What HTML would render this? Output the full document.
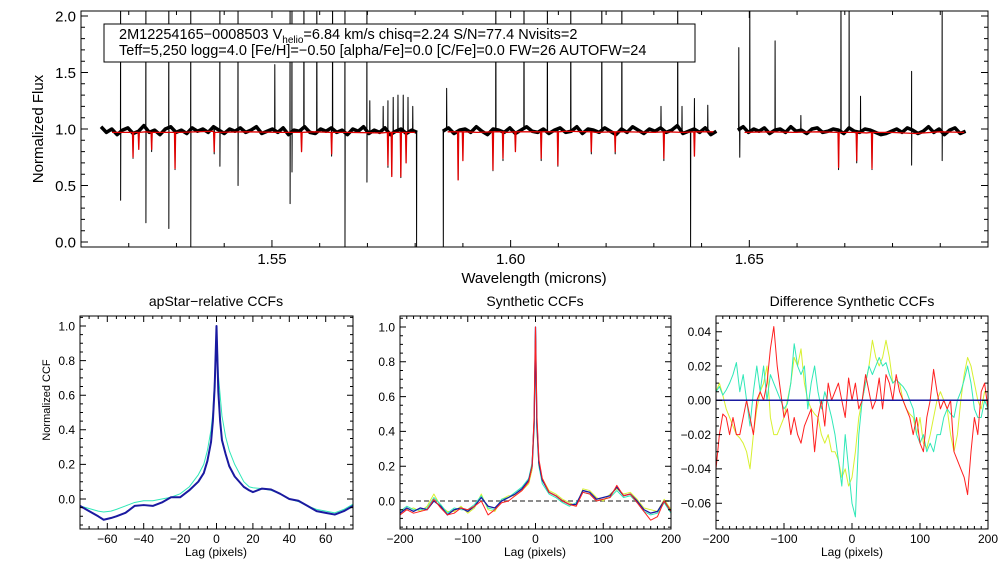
<!DOCTYPE html>
<html><head><meta charset="utf-8"><style>
body{margin:0;background:#fff}
svg{display:block;font-family:"Liberation Sans",sans-serif}
</style></head><body>
<svg id="fig" width="1008" height="576" viewBox="0 0 1008 576" xmlns="http://www.w3.org/2000/svg">
<defs>
<clipPath id="c0"><rect x="81" y="11" width="907" height="236"/></clipPath>
<clipPath id="c1"><rect x="80" y="316" width="273" height="213"/></clipPath>
<clipPath id="c2"><rect x="400" y="316" width="271" height="213"/></clipPath>
<clipPath id="c3"><rect x="716" y="316" width="272" height="213"/></clipPath>
</defs>
<g id="g0"></g>
<g id="g1"></g>
<g id="g2"></g>
<g id="g3"></g>
<g>
<rect x="104" y="24" width="591" height="38" fill="#fff" stroke="#000" stroke-width="1"/>
<text x="119" y="39" font-size="14.5">2M12254165−0008503  V<tspan font-size="10" dy="4">helio</tspan><tspan dy="-4">=6.84 km/s  chisq=2.24  S/N=77.4  Nvisits=2</tspan></text>
<text x="119" y="55" font-size="14.5">Teff=5,250 logg=4.0 [Fe/H]=−0.50 [alpha/Fe]=0.0 [C/Fe]=0.0 FW=26 AUTOFW=24</text>
</g>
</svg>
<script>
// ---------- spectrum data ----------
const chipStart=[1.5142,1.5858,1.6476];
const chipEnd=[1.5804,1.6431,1.6953];
const contChip1=[1.02,0.97,1.00,0.95,0.99,1.01,0.96,0.98,1.03,0.97,0.99,0.95,1.00,1.02,0.97,0.99,0.96,1.01,0.98,1.00,0.97,1.02,0.99,0.96,1.00,0.98,1.01,0.97,0.99,1.02,0.96,0.98,1.00,0.97,1.01,0.95,0.99,0.98,1.02,0.97,0.96,1.00,0.98,1.01,0.97,0.99,0.95,1.00,0.98,1.02,0.96,0.99,0.97,1.01,0.95,0.98,1.00,0.96,0.99,0.97];
const contChip2=[0.98,1.01,0.96,0.99,1.00,0.97,1.02,0.98,0.95,1.00,0.99,0.97,1.01,0.96,0.99,1.02,0.98,0.97,1.00,0.96,0.99,1.01,0.97,0.98,1.02,0.96,1.00,0.99,0.97,1.01,0.98,0.95,1.00,0.97,1.02,0.99,0.96,1.00,0.98,1.01,0.97,0.99,1.03,0.96,0.98,1.00,0.97,1.01,0.95,0.98];
const contChip3=[0.99,1.02,0.97,1.00,0.98,1.01,0.96,0.99,1.00,0.97,1.02,0.98,0.99,0.96,1.00,1.01,0.97,0.98,1.00,0.99,0.96,1.01,0.98,0.97,1.00,0.99,0.97,0.95,0.96,0.98,1.00,0.97,1.01,0.99,0.96,0.98,1.02,0.97,1.00,0.95,0.99,1.01,0.96,0.98];
const spikeWave=[1.5183,1.5236,1.5284,1.5330,1.5391,1.5429,1.5506,1.5538,1.5542,1.5567,1.5594,1.5627,1.5653,1.5699,1.5705,1.5733,1.5743,1.5754,1.5764,1.5775,1.5785,1.5795,1.5866,1.5969,1.6028,1.6077,1.6126,1.6191,1.6233,1.6315,1.6350,1.6359,1.6385,1.6413,1.6478,1.6501,1.6554,1.6608,1.6692,1.6709,1.6733,1.6840,1.6904];
const spikeTop=[2.3,2.3,2.3,2.3,2.3,2.3,1.57,2.3,2.3,2.3,2.3,2.3,2.3,2.3,1.25,1.2,1.25,1.28,1.3,1.3,1.28,1.2,1.36,2.3,2.3,2.3,2.3,2.3,2.3,1.2,2.3,1.2,1.27,1.21,1.72,2.3,1.78,1.12,2.3,2.3,1.29,1.51,2.3];
const dipWave=[1.5183,1.5209,1.5236,1.5248,1.5284,1.5297,1.5330,1.5379,1.5391,1.5429,1.5538,1.5542,1.5562,1.5625,1.5653,1.5699,1.5743,1.5751,1.5770,1.5803,1.5859,1.5890,1.5963,1.5984,1.6064,1.6099,1.6169,1.6219,1.6321,1.6377,1.6480,1.6687,1.6725,1.6757,1.6840,1.6904];
const dipBottom=[0.37,0.74,0.17,0.8,0.12,0.64,-0.05,0.78,0.67,0.5,0.34,0.62,0.8,0.76,-0.05,0.53,0.66,0.6,0.57,-0.05,-0.05,0.55,0.63,0.72,0.72,0.67,0.78,0.78,0.72,-0.05,0.75,0.64,0.7,0.64,0.68,0.72];
const redStart=[1.5165,1.5868,1.6490];
const redEnd=[1.5800,1.6425,1.6950];
const redContChip1=[0.97,0.975,0.97,0.98,0.975,0.97,0.975,0.97,0.965,0.97];
const redContChip2=[0.975,0.97,0.97,0.975,0.98,0.97,0.975,0.97,0.97,0.975];
const redContChip3=[0.97,0.975,0.97,0.975,0.97,0.965,0.97,0.96,0.975,0.97];
const redDipWave=[1.5209,1.5221,1.5248,1.5297,1.5379,1.5562,1.5625,1.5743,1.5751,1.5770,1.5781,1.5890,1.5900,1.5963,1.5984,1.6010,1.6064,1.6099,1.6169,1.6219,1.6321,1.6385,1.6687,1.6725,1.6757];
const redDipBottom=[0.75,0.82,0.82,0.65,0.8,0.8,0.78,0.68,0.58,0.58,0.7,0.55,0.72,0.64,0.74,0.8,0.74,0.68,0.8,0.8,0.74,0.76,0.66,0.72,0.65];
const specYTicks=["0.0","0.5","1.0","1.5","2.0"];
const specXTicks=["1.55","1.60","1.65"];
// ---------- CCF data ----------
const lagP1=[-75,-70,-65,-62,-58,-55,-50,-45,-40,-35,-30,-25,-20,-15,-10,-7,-5,-3,-2,-1,0,1,2,3,5,7,10,15,18,20,25,30,35,40,45,50,55,60,65,70,75];
const ccfBlueP1=[-0.04,-0.07,-0.10,-0.12,-0.11,-0.10,-0.08,-0.04,-0.035,-0.04,-0.02,0.01,0.01,0.05,0.10,0.15,0.22,0.33,0.45,0.65,1.0,0.62,0.45,0.34,0.26,0.19,0.13,0.07,0.05,0.04,0.06,0.055,0.03,0.0,-0.01,-0.04,-0.07,-0.08,-0.09,-0.07,-0.04];
const ccfCyanP1=[-0.04,-0.055,-0.07,-0.075,-0.07,-0.06,-0.04,-0.02,-0.01,-0.01,0.0,0.01,0.03,0.07,0.14,0.2,0.28,0.4,0.5,0.7,1.0,0.72,0.6,0.48,0.36,0.28,0.2,0.1,0.07,0.065,0.06,0.05,0.03,0.0,-0.015,-0.04,-0.06,-0.07,-0.08,-0.06,-0.03];
const lagP2=[-200,-190,-180,-170,-160,-150,-140,-130,-120,-110,-100,-90,-80,-70,-60,-50,-40,-30,-20,-10,-5,-2,0,2,5,10,20,30,40,50,60,70,80,90,100,110,120,130,140,150,160,170,180,190,200];
const ccfBlueP2=[-0.07,-0.04,-0.06,-0.04,-0.05,0.0,-0.03,-0.08,-0.05,-0.04,-0.06,-0.03,0.02,-0.03,-0.04,0.0,0.02,0.04,0.07,0.12,0.2,0.45,1.0,0.45,0.22,0.12,0.05,0.03,0.0,-0.02,-0.02,0.06,0.05,0.01,0.02,0.03,0.08,0.03,0.04,0.0,-0.05,-0.07,-0.06,0.0,-0.06];
const ccfCyanP2=[-0.06,-0.03,-0.05,-0.05,-0.04,0.02,-0.02,-0.07,-0.04,-0.05,-0.05,-0.02,0.03,-0.04,-0.05,0.01,0.02,0.05,0.08,0.13,0.22,0.48,0.98,0.42,0.2,0.1,0.04,0.02,-0.01,-0.03,-0.01,0.05,0.04,0.0,0.01,0.02,0.06,0.02,0.03,-0.01,-0.06,-0.08,-0.07,-0.01,-0.07];
const ccfYellowP2=[-0.05,-0.05,-0.04,-0.06,-0.03,0.04,-0.03,-0.06,-0.06,-0.03,-0.07,-0.04,0.04,-0.05,-0.06,0.01,0.03,0.03,0.06,0.1,0.18,0.42,0.97,0.4,0.2,0.13,0.06,0.04,0.01,-0.01,-0.03,0.07,0.06,0.02,0.0,0.04,0.07,0.04,0.05,0.01,-0.04,-0.05,-0.06,0.01,-0.05];
const ccfRedP2=[-0.08,-0.05,-0.07,-0.06,-0.05,0.01,-0.04,-0.08,-0.07,-0.04,-0.05,-0.03,0.0,-0.08,-0.05,-0.01,0.0,0.03,0.06,0.11,0.2,0.5,1.0,0.5,0.24,0.13,0.05,0.03,0.0,-0.02,-0.03,0.05,0.04,0.0,0.01,0.02,0.09,0.03,0.04,-0.01,-0.06,-0.11,-0.09,0.0,-0.06];
const lagP3=[-200,-195,-190,-185,-180,-175,-170,-165,-160,-155,-150,-145,-140,-135,-130,-125,-120,-115,-110,-105,-100,-95,-90,-85,-80,-75,-70,-65,-60,-55,-50,-45,-40,-35,-30,-25,-20,-15,-10,-5,0,5,10,15,20,25,30,35,40,45,50,55,60,65,70,75,80,85,90,95,100,105,110,115,120,125,130,135,140,145,150,155,160,165,170,175,180,185,190,195,200];
const diffRed=[-0.04,-0.02,-0.008,-0.01,-0.02,-0.01,-0.02,-0.02,-0.01,0.0,-0.01,-0.02,0.0,0.005,0.0,0.01,0.03,0.043,0.02,0.005,-0.01,-0.005,-0.02,-0.01,-0.02,-0.025,-0.015,-0.01,-0.005,-0.03,-0.01,0.0,-0.015,0.01,0.0,0.005,0.01,0.0,-0.01,0.013,0.0,0.01,-0.005,0.0,0.015,0.005,-0.005,0.0,0.013,-0.005,0.015,0.01,0.0,0.015,0.005,0.0,-0.005,-0.01,-0.02,-0.01,-0.025,-0.03,-0.01,0.0,0.018,0.005,-0.005,0.0,-0.005,0.0,-0.03,-0.035,-0.04,-0.045,-0.055,-0.03,-0.01,-0.02,0.005,0.01,-0.005];
const diffCyan=[0.005,0.008,0.003,0.006,0.01,0.015,0.022,0.005,0.015,0.0,-0.015,0.005,0.02,0.005,0.02,0.0,0.015,0.01,0.005,0.0,-0.005,-0.002,0.01,0.033,0.02,0.015,0.02,-0.005,0.01,0.02,0.005,-0.005,0.005,-0.002,-0.01,-0.02,-0.035,-0.05,-0.02,-0.04,-0.06,-0.068,-0.02,0.0,0.01,0.02,0.015,0.02,0.025,0.02,0.022,0.015,0.01,0.012,0.01,0.008,0.005,0.0,-0.005,-0.02,-0.025,-0.02,-0.03,-0.025,-0.03,-0.02,-0.02,-0.01,-0.005,-0.008,-0.01,0.0,0.005,0.012,0.02,0.01,-0.005,-0.01,-0.01,0.0,-0.005];
const diffYellow=[0.005,0.01,0.003,-0.005,-0.01,-0.015,-0.02,-0.022,-0.025,-0.03,-0.04,-0.02,-0.005,0.005,0.01,0.02,-0.01,-0.02,-0.02,-0.015,-0.01,0.0,0.01,0.025,0.02,0.03,0.01,0.0,-0.005,-0.008,-0.01,-0.02,-0.025,-0.02,-0.03,-0.03,-0.035,-0.045,-0.04,-0.05,-0.045,-0.03,-0.01,0.0,0.01,0.02,0.035,0.025,0.02,0.025,0.035,0.025,0.01,0.012,0.01,0.0,-0.005,-0.008,-0.01,-0.02,-0.01,-0.025,-0.028,-0.02,-0.01,0.0,0.005,0.0,-0.005,-0.02,-0.03,-0.02,0.0,0.015,0.025,0.02,0.01,0.0,-0.005,0.005,0.005];
const diffBlue=[0,0];
const lagBlue=[-200,200];
const p1XTicks=["-60","-40","-20","0","20","40","60"];
const p1YTicks=["0.0","0.2","0.4","0.6","0.8","1.0"];
const p2XTicks=["-200","-100","0","100","200"];
const p3YTicks=["-0.06","-0.04","-0.02","0.00","0.02","0.04"];

const NS="http://www.w3.org/2000/svg";
function lin(d0,d1,r0,r1){return v=>r0+(v-d0)/(d1-d0)*(r1-r0);}
function mk(parent,tag,attrs){const e=document.createElementNS(NS,tag);for(const k in attrs)e.setAttribute(k,attrs[k]);parent.appendChild(e);return e;}
function txt(parent,x,y,s,size,anchor,rot){const t=mk(parent,'text',{x:x,y:y,'font-size':size,'text-anchor':anchor||'middle'});if(rot)t.setAttribute('transform','rotate(-90 '+x+' '+y+')');t.textContent=s;return t;}

function axes(g,box,X,Y,xMaj,xMin,yMaj,yMin,xLab,yLab,fs,majL,minL){
  const [x0,y0,x1,y1]=box;
  const fr=mk(g,'rect',{x:x0,y:y0,width:x1-x0,height:y1-y0,fill:'none',stroke:'#000','stroke-width':1});
  
  
  let d='';
  xMin.forEach(v=>{const x=X(v);d+=`M${x} ${y1}v${-minL}M${x} ${y0}v${minL}`;});
  xMaj.forEach(v=>{const x=X(v);d+=`M${x} ${y1}v${-majL}M${x} ${y0}v${majL}`;});
  yMin.forEach(v=>{const y=Y(v);d+=`M${x0} ${y}h${minL}M${x1} ${y}h${-minL}`;});
  yMaj.forEach(v=>{const y=Y(v);d+=`M${x0} ${y}h${majL}M${x1} ${y}h${-majL}`;});
  const tp=mk(g,'path',{d:d,stroke:'#000','stroke-width':1,fill:'none'});
  
  
  xMaj.forEach((v,i)=>{if(xLab[i]===undefined)return;const t=txt(g,X(v),y1+fs+2,xLab[i].replace('-','−'),fs);
    
    });
  yMaj.forEach((v,i)=>{if(yLab[i]===undefined)return;const t=txt(g,x0-5,Y(v)+fs*0.36,yLab[i].replace('-','−'),fs,'end');
    
    });
}
function range(a,b,s){const r=[];for(let v=a;v<=b+s*1e-6;v+=s)r.push(+v.toFixed(6));return r;}
function line(g,xs,ys,X,Y,col,w,clip,name,dash){
  const d=xs.map((x,i)=>(i?'L':'M')+X(x).toFixed(2)+' '+Y(ys[i]).toFixed(2)).join('');
  const p=mk(g,'path',{d:d,stroke:col,'stroke-width':w,fill:'none','clip-path':'url(#'+clip+')','stroke-linejoin':'round'});
  if(dash)p.setAttribute('stroke-dasharray',dash);
  
  
  return p;
}

// ---------- spectrum panel ----------
(function(){
  const g=document.getElementById('g0');
  const X=lin(1.51,1.70,81,988),Y=lin(0,2,242,16);
  const conts=[contChip1,contChip2,contChip3];
  function contAt(c,w){const arr=conts[c];const t=(w-chipStart[c])/(chipEnd[c]-chipStart[c])*(arr.length-1);const i=Math.max(0,Math.min(arr.length-2,Math.floor(t)));const f=t-i;return arr[i]*(1-f)+arr[i+1]*f;}
  for(let c=0;c<3;c++){
    const arr=conts[c];
    const cw=arr.map((v,i)=>chipStart[c]+i/(arr.length-1)*(chipEnd[c]-chipStart[c]));
    line(g,cw,arr,X,Y,'#000',3.5,'c0','observed-continuum-band-chip-'+(c+1));
    const pts=[];
    arr.forEach((v,i)=>pts.push([cw[i],v]));
    const feat=[];
    spikeWave.forEach((w,i)=>feat.push([w,spikeTop[i]]));
    dipWave.forEach((w,i)=>feat.push([w,dipBottom[i]]));
    feat.forEach(([w,v])=>{if(w<chipStart[c]||w>chipEnd[c])return;const cv=contAt(c,w);pts.push([w-0.00004,cv],[w,v],[w+0.00004,cv]);});
    pts.sort((a,b)=>a[0]-b[0]);
    line(g,pts.map(p=>p[0]),pts.map(p=>p[1]),X,Y,'#000',1,'c0','observed-spectrum-chip-'+(c+1));
  }
  const rconts=[redContChip1,redContChip2,redContChip3];
  for(let c=0;c<3;c++){
    const arr=rconts[c];const pts=[];
    arr.forEach((v,i)=>pts.push([redStart[c]+i/(arr.length-1)*(redEnd[c]-redStart[c]),v]));
    const base=arr[0];
    redDipWave.forEach((w,i)=>{if(w<redStart[c]||w>redEnd[c])return;pts.push([w-0.00012,base],[w,redDipBottom[i]],[w+0.00012,base]);});
    pts.sort((a,b)=>a[0]-b[0]);
    line(g,pts.map(p=>p[0]),pts.map(p=>p[1]),X,Y,'#e00000',1.3,'c0','model-spectrum-chip-'+(c+1));
  }
  axes(g,[81,11,988,247],X,Y,[1.55,1.60,1.65],range(1.51,1.70,0.01),[0,0.5,1,1.5,2],range(0,2,0.1),specXTicks,specYTicks,15,7,4);
  let t=txt(g,534,283,'Wavelength (microns)',15);
  
  t=txt(g,43,129,'Normalized Flux',15,'middle',true);
  
})();

// ---------- CCF panels ----------
(function(){
  const g=document.getElementById('g1');
  const X=lin(-75,75,80,353),Y=lin(0,1,499,326);
  line(g,lagP1,ccfCyanP1,X,Y,'#30e8b8',1,'c1','ccf-cyan');
  line(g,lagP1,ccfBlueP1,X,Y,'#1a1aa0',2,'c1','ccf-blue');
  axes(g,[80,316,353,529],X,Y,[-60,-40,-20,0,20,40,60],range(-75,75,5),[0,0.2,0.4,0.6,0.8,1.0],range(-0.15,1.05,0.05),p1XTicks,p1YTicks,12,6,3);
  let t=txt(g,216,306,'apStar−relative CCFs',14);
  t=txt(g,216,556,'Lag (pixels)',12);
  t=txt(g,50,400,'Normalized CCF',11,'middle',true);
})();
(function(){
  const g=document.getElementById('g2');
  const X=lin(-200,200,400,671),Y=lin(0,1,501,327);
  line(g,[-200,200],[0,0],X,Y,'#666',1.5,'c2','zero-dashed-line','5,3');
  line(g,lagP2,ccfYellowP2,X,Y,'#d8f030',1,'c2','ccf-yellow');
  line(g,lagP2,ccfCyanP2,X,Y,'#30e8b8',1,'c2','ccf-cyan');
  line(g,lagP2,ccfBlueP2,X,Y,'#1a1aa0',1.3,'c2','ccf-blue');
  line(g,lagP2,ccfRedP2,X,Y,'#ff2020',1,'c2','ccf-red');
  axes(g,[400,316,671,529],X,Y,[-200,-100,0,100,200],range(-200,200,10),[0,0.2,0.4,0.6,0.8,1.0],range(-0.15,1.05,0.05),p2XTicks,p1YTicks,12,6,3);
  let t=txt(g,535,306,'Synthetic CCFs',14);
  t=txt(g,535,556,'Lag (pixels)',12);
})();
(function(){
  const g=document.getElementById('g3');
  const X=lin(-200,200,716,988),Y=lin(0,0.04,400.3,331.7);
  line(g,lagP3,diffYellow,X,Y,'#d8f030',1,'c3','diff-yellow');
  line(g,lagP3,diffCyan,X,Y,'#30e8b8',1,'c3','diff-cyan');
  line(g,lagP3,diffRed,X,Y,'#ff2020',1,'c3','diff-red');
  line(g,lagBlue,diffBlue,X,Y,'#1a1aa0',1.5,'c3','diff-blue');
  axes(g,[716,316,988,529],X,Y,[-200,-100,0,100,200],range(-200,200,10),[-0.06,-0.04,-0.02,0,0.02,0.04],range(-0.075,0.045,0.005),p2XTicks,p3YTicks,12,6,3);
  let t=txt(g,852,306,'Difference Synthetic CCFs',14);
  t=txt(g,852,556,'Lag (pixels)',12);
})();
</script>
</body></html>
